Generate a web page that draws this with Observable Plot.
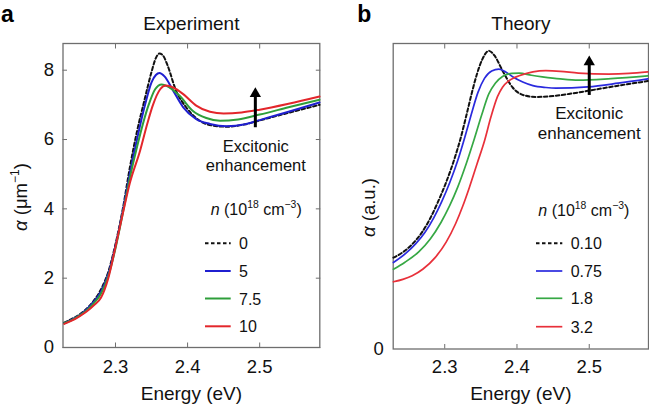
<!DOCTYPE html>
<html><head><meta charset="utf-8">
<script src="https://cdn.jsdelivr.net/npm/d3@7"></script>
<script src="https://cdn.jsdelivr.net/npm/@observablehq/plot@0.6"></script>
<style>
body{margin:0;background:#fff;}
#wrap{position:relative;width:649px;height:406px;overflow:hidden;font-family:"Liberation Sans",Arial,Helvetica,sans-serif;}
.panel{position:absolute;top:0;}
</style></head><body>
<div id="wrap"><div class="panel" id="pa" style="left:0"></div><div class="panel" id="pb" style="left:325px"></div></div>
<script>
// ---------- Panel a: Experiment ----------
const expLabels = ["0", "5", "7.5", "10"];
const expE0 = [2.229,2.240,2.250,2.260,2.270,2.280,2.290,2.300,2.310,2.320,2.330,2.340,2.350,2.356,2.361,2.366,2.372,2.384,2.398,2.417,2.435,2.455,2.480,2.500,2.540,2.583];
const expA0 = [0.72,0.83,0.95,1.12,1.35,1.68,2.18,2.98,3.98,5.20,6.25,7.12,7.95,8.35,8.48,8.42,8.15,7.41,6.93,6.54,6.40,6.37,6.44,6.55,6.77,7.00];
const expE5 = [2.229,2.240,2.250,2.260,2.270,2.280,2.290,2.300,2.310,2.320,2.330,2.341,2.350,2.356,2.361,2.368,2.380,2.394,2.412,2.431,2.454,2.480,2.500,2.540,2.583];
const expA5 = [0.70,0.81,0.93,1.10,1.32,1.62,2.12,2.92,3.92,5.02,6.02,7.00,7.65,7.86,7.92,7.82,7.41,6.93,6.59,6.45,6.38,6.44,6.56,6.80,7.07];
const expE75 = [2.229,2.240,2.250,2.260,2.270,2.280,2.290,2.300,2.310,2.320,2.330,2.346,2.355,2.364,2.375,2.389,2.407,2.426,2.445,2.470,2.500,2.540,2.583];
const expA75 = [0.70,0.80,0.92,1.07,1.28,1.56,2.06,2.86,3.86,4.90,5.80,7.00,7.45,7.59,7.50,7.26,6.83,6.62,6.54,6.58,6.72,6.93,7.15];
const expE10 = [2.229,2.240,2.250,2.260,2.270,2.280,2.290,2.300,2.310,2.320,2.334,2.344,2.352,2.362,2.370,2.380,2.394,2.412,2.431,2.450,2.475,2.500,2.540,2.583];
const expA10 = [0.68,0.78,0.90,1.04,1.22,1.44,2.00,2.90,3.85,4.75,5.67,6.45,7.00,7.45,7.56,7.50,7.31,6.98,6.80,6.75,6.78,6.86,7.03,7.24];
const expXTicks = [2.3, 2.4, 2.5];
const expYTicks = [0, 2, 4, 6, 8];
const expArrow = {x: 2.494, from: 6.34, to: 7.51};
const expNote = {x: 2.4947, y: 5.10};

// ---------- Panel b: Theory ----------
const thLabels = ["0.10", "0.75", "1.8", "3.2"];
const thE010 = [2.229,2.241,2.255,2.268,2.280,2.290,2.301,2.312,2.322,2.330,2.338,2.345,2.352,2.361,2.369,2.380,2.394,2.412,2.426,2.450,2.475,2.498,2.540,2.581];
const thA010 = [0.299,0.315,0.343,0.380,0.428,0.478,0.540,0.612,0.690,0.765,0.843,0.903,0.948,0.976,0.960,0.911,0.856,0.829,0.825,0.828,0.836,0.845,0.862,0.877];
const thE075 = [2.229,2.246,2.260,2.273,2.285,2.296,2.307,2.318,2.328,2.337,2.346,2.355,2.365,2.375,2.385,2.394,2.408,2.422,2.440,2.454,2.498,2.540,2.581];
const thA075 = [0.283,0.313,0.345,0.383,0.430,0.483,0.545,0.617,0.695,0.770,0.840,0.886,0.910,0.916,0.906,0.891,0.874,0.862,0.856,0.854,0.858,0.870,0.884];
const thE18 = [2.229,2.245,2.264,2.280,2.295,2.307,2.318,2.330,2.341,2.351,2.361,2.370,2.380,2.393,2.403,2.420,2.435,2.460,2.485,2.530,2.581];
const thA18 = [0.261,0.284,0.318,0.360,0.415,0.470,0.530,0.608,0.688,0.765,0.835,0.870,0.892,0.902,0.903,0.896,0.891,0.884,0.880,0.885,0.894];
const thE32 = [2.229,2.242,2.255,2.270,2.287,2.302,2.315,2.325,2.334,2.345,2.355,2.364,2.373,2.380,2.388,2.398,2.410,2.422,2.440,2.460,2.485,2.527,2.555,2.581];
const thA32 = [0.220,0.228,0.240,0.262,0.300,0.350,0.410,0.468,0.528,0.608,0.681,0.760,0.826,0.857,0.877,0.890,0.900,0.907,0.911,0.909,0.903,0.900,0.902,0.907];
const thXTicks = [2.3, 2.4, 2.5];
const thYTicks = [0];
const thArrow = {x: 2.5, from: 0.830, to: 0.961};
const thNote = {x: 2.5, y: 0.688};

const FONT = '"Liberation Sans", Arial, Helvetica, sans-serif';
const FRAME = "#6e6e6e";

function series(E, A, stroke, w, dash) {
  return Plot.line(E, {x: E, y: A, stroke, strokeWidth: w, strokeDasharray: dash, curve: "monotone-x"});
}

function richText(sel, parts, size) {
  const supSize = size * 0.65, rise = size * 0.42;
  let raised = false;
  for (const p of parts) {
    const ts = sel.append("tspan").text(p.t);
    if (p.it) ts.attr("font-style", "italic");
    if (p.sup) { ts.attr("font-size", supSize); if (!raised) ts.attr("dy", -rise); raised = true; }
    else { ts.attr("font-size", size); if (raised) { ts.attr("dy", rise); raised = false; } }
  }
}

function addLegend(svg, o) {
  const g = d3.select(svg).append("g").attr("font-family", FONT).attr("fill", "#111").attr("text-anchor", "start");
  richText(g.append("text").attr("x", o.hx).attr("y", o.hy).attr("text-anchor", "start"),
    [{t: "n", it: 1}, {t: " (10"}, {t: "18", sup: 1}, {t: " cm"}, {t: "\u22123", sup: 1}, {t: ")"}], 16);
  o.labels.forEach((lab, i) => {
    const y = o.ys[i];
    g.append("line").attr("x1", o.lx1).attr("x2", o.lx2).attr("y1", y).attr("y2", y)
      .attr("stroke", o.colors[i]).attr("stroke-width", o.widths[i])
      .attr("stroke-dasharray", o.dashes[i] || null);
    g.append("text").attr("x", o.tx).attr("y", y + 6).attr("font-size", 16).attr("text-anchor", "start").text(lab);
  });
}

function addYLabel(svg, x, y, parts) {
  const t = d3.select(svg).append("text").attr("font-family", FONT).attr("fill", "#111")
    .attr("text-anchor", "middle").attr("transform", `translate(${x},${y}) rotate(-90)`);
  richText(t, parts, 18.5);
}

// ---- Panel a ----
const expColors = ["#111", "#1f1fd0", "#2e9e3a", "#e3262b"];
const plotA = Plot.plot({
  width: 325, height: 406,
  marginLeft: 62.5, marginRight: 5.7, marginTop: 43, marginBottom: 59,
  x: {domain: [2.2272, 2.5834]},
  y: {domain: [0, 8.77]},
  style: {fontFamily: FONT, fontSize: "18px", color: "#111", background: "white"},
  marks: [
    Plot.frame({stroke: FRAME, strokeWidth: 1.3}),
    Plot.axisX({ticks: expXTicks, tickSize: 0, tickPadding: 12, tickFormat: d => d.toFixed(1), label: null, fontSize: 18.5}),
    Plot.axisX({ticks: expXTicks, anchor: "bottom", tickSize: -4.5, text: null, label: null, stroke: FRAME}),
    Plot.axisX({ticks: expXTicks, anchor: "top", tickSize: -4.5, text: null, label: null, stroke: FRAME}),
    Plot.axisY({ticks: expYTicks, tickSize: 0, tickPadding: 9, tickFormat: d => String(d), label: null, fontSize: 18.5}),
    Plot.axisY({ticks: expYTicks, anchor: "left", tickSize: -4.5, text: null, label: null, stroke: FRAME}),
    Plot.axisY({ticks: expYTicks, anchor: "right", tickSize: -4.5, text: null, label: null, stroke: FRAME}),
    series(expE0, expA0, expColors[0], 2, "3.5,2.5"),
    series(expE5, expA5, expColors[1], 2),
    series(expE75, expA75, expColors[2], 2),
    series(expE10, expA10, expColors[3], 2),
    Plot.ruleX([expArrow], {x: "x", y1: "from", y2: d => d.to - 0.23, stroke: "#000", strokeWidth: 3}),
    Plot.dot([expArrow], {x: "x", y: "to", symbol: "triangle", r: 4.2, fill: "#000", stroke: "none", dy: 6.5}),
    Plot.text([expNote], {x: "x", y: "y", text: () => "Excitonic\nenhancement", lineAnchor: "bottom", lineHeight: 1.15, fontSize: 16.5, fill: "#111"}),
    Plot.text(["Experiment"], {frameAnchor: "top", dy: -13.7, lineAnchor: "bottom", fontSize: 19, fill: "#111"}),
    Plot.text(["Energy (eV)"], {frameAnchor: "bottom", dy: 52.3, lineAnchor: "bottom", fontSize: 19, fill: "#111"}),
    Plot.text(["a"], {frameAnchor: "top-left", dx: -62, dy: -22, textAnchor: "start", lineAnchor: "bottom", fontSize: 23, fontWeight: "bold", fill: "#000"})
  ]
});
addYLabel(plotA, 27, 197, [{t: "\u03b1", it: 1}, {t: " (\u03bcm"}, {t: "\u22121", sup: 1}, {t: ")"}]);
addLegend(plotA, {hx: 210.7, hy: 215, lx1: 205, lx2: 230.7, tx: 239, ys: [243.3, 271, 298.5, 326.3],
  labels: expLabels, colors: expColors, widths: [2, 2, 2, 2], dashes: ["3.5,2.5"]});
document.getElementById("pa").appendChild(plotA);

// ---- Panel b ----
const thColors = ["#111", "#2a2ade", "#36a844", "#e8303a"];
const plotB = Plot.plot({
  width: 324, height: 406,
  marginLeft: 67.7, marginRight: 1, marginTop: 43, marginBottom: 57.5,
  x: {domain: [2.2287, 2.5820]},
  y: {domain: [0, 1]},
  style: {fontFamily: FONT, fontSize: "18px", color: "#111", background: "white"},
  marks: [
    Plot.frame({stroke: FRAME, strokeWidth: 1.3}),
    Plot.axisX({ticks: thXTicks, tickSize: 0, tickPadding: 10.5, tickFormat: d => d.toFixed(1), label: null, fontSize: 18.5}),
    Plot.axisX({ticks: thXTicks, anchor: "bottom", tickSize: -4.5, text: null, label: null, stroke: FRAME}),
    Plot.axisX({ticks: thXTicks, anchor: "top", tickSize: -4.5, text: null, label: null, stroke: FRAME}),
    Plot.axisY({ticks: thYTicks, tickSize: 0, tickPadding: 9.5, tickFormat: d => String(d), label: null, fontSize: 18.5}),
    series(thE010, thA010, thColors[0], 2, "3.5,2.5"),
    series(thE075, thA075, thColors[1], 1.7),
    series(thE18, thA18, thColors[2], 1.7),
    series(thE32, thA32, thColors[3], 1.7),
    Plot.ruleX([thArrow], {x: "x", y1: "from", y2: d => d.to - 0.026, stroke: "#000", strokeWidth: 3}),
    Plot.dot([thArrow], {x: "x", y: "to", symbol: "triangle", r: 4.2, fill: "#000", stroke: "none", dy: 6.5}),
    Plot.text([thNote], {x: "x", y: "y", text: () => "Excitonic\nenhancement", lineAnchor: "bottom", lineHeight: 1.18, fontSize: 17, fill: "#111"}),
    Plot.text(["Theory"], {frameAnchor: "top", dy: -13.7, lineAnchor: "bottom", fontSize: 19, fill: "#111"}),
    Plot.text(["Energy (eV)"], {frameAnchor: "bottom", dy: 50.8, lineAnchor: "bottom", fontSize: 19, fill: "#111"}),
    Plot.text(["b"], {frameAnchor: "top-left", dx: -36, dy: -22, textAnchor: "start", lineAnchor: "bottom", fontSize: 23, fontWeight: "bold", fill: "#000"})
  ]
});
addYLabel(plotB, 50, 207.5, [{t: "\u03b1", it: 1}, {t: " (a.u.)"}]);
addLegend(plotB, {hx: 213.3, hy: 216, lx1: 211, lx2: 237.3, tx: 245.7, ys: [243.3, 271, 298.3, 326.7],
  labels: thLabels, colors: thColors, widths: [2, 1.7, 1.7, 1.7], dashes: ["3.5,2.5"]});
document.getElementById("pb").appendChild(plotB);
</script>
</body></html>
